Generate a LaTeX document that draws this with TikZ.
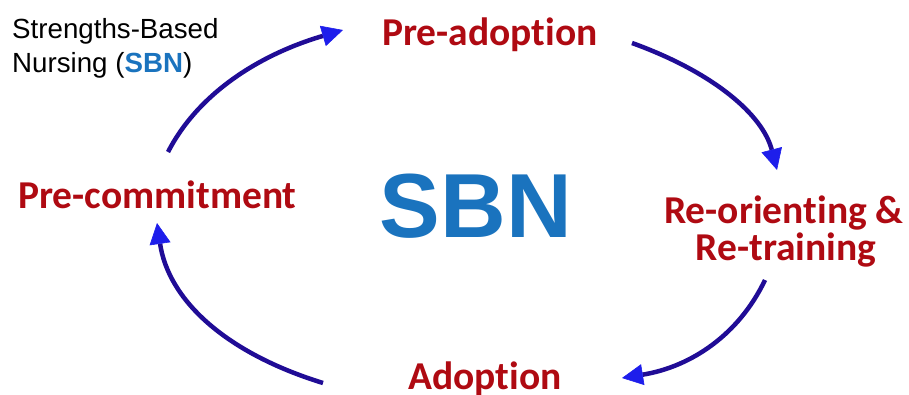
\documentclass[tikz,border=0pt]{standalone}
\usepackage{fontspec}
\setmainfont{Liberation Sans}
\newfontfamily\calfont{Carlito}[RawFeature=-liga]
\usetikzlibrary{arrows.meta}
\definecolor{stagered}{RGB}{175,10,18}
\definecolor{sbnblue}{RGB}{26,115,190}
\definecolor{linenavy}{RGB}{32,12,150}
\definecolor{tipblue}{RGB}{30,30,235}
\tikzset{
  stage/.style={font=\calfont\bfseries\fontsize{39.5}{40}\selectfont, text=stagered, inner sep=0pt, anchor=base},
  note/.style={font=\fontsize{27.7}{28}\selectfont, inner sep=0pt, anchor=base west},
  cyc/.style={line width=4.5pt, draw=linenavy, -{Triangle[length=21pt,width=21pt,fill=tipblue,color=tipblue,line width=0.6pt]}}
}
\begin{document}
\begin{tikzpicture}[x=1pt,y=-1pt]
\useasboundingbox (0,0) rectangle (909,394);
\node[note] (n1) at (12,38) {Strengths-Based};
\node[note] (n2) at (12,72) {Nursing (\textbf{\textcolor{sbnblue}{SBN}})};
\node[stage] (pre) at (490,45) {Pre-adoption};
\node[stage] (com) at (157.5,208) {Pre-commitment};
\node[stage] (ro1) at (784,223) {Re-orienting \&};
\node[stage] (ro2) at (786,260) {Re-training};
\node[stage] (ado) at (485,389) {Adoption};
\node[font=\bfseries\fontsize{91}{92}\selectfont, text=sbnblue, inner sep=0pt, anchor=base] (sbn) at (476,237) {SBN};
\coordinate (a1s) at (168,152); \coordinate (a1e) at (343,30);
\coordinate (a2s) at (632,43);  \coordinate (a2e) at (777,170);
\coordinate (a3s) at (765,280); \coordinate (a3e) at (622,378);
\coordinate (a4s) at (323,383); \coordinate (a4e) at (157,223);
\draw[cyc] (a1s) .. controls (196.3,96.7) and (254.7,56) .. (a1e);
\draw[cyc] (a2s) .. controls (714.3,72.7) and (762.7,115) .. (a2e);
\draw[cyc] (a3s) .. controls (739.3,334) and (691.7,366.7) .. (a3e);
\draw[cyc] (a4s) .. controls (223.7,352.3) and (168.3,299) .. (a4e);
\end{tikzpicture}
\end{document}
